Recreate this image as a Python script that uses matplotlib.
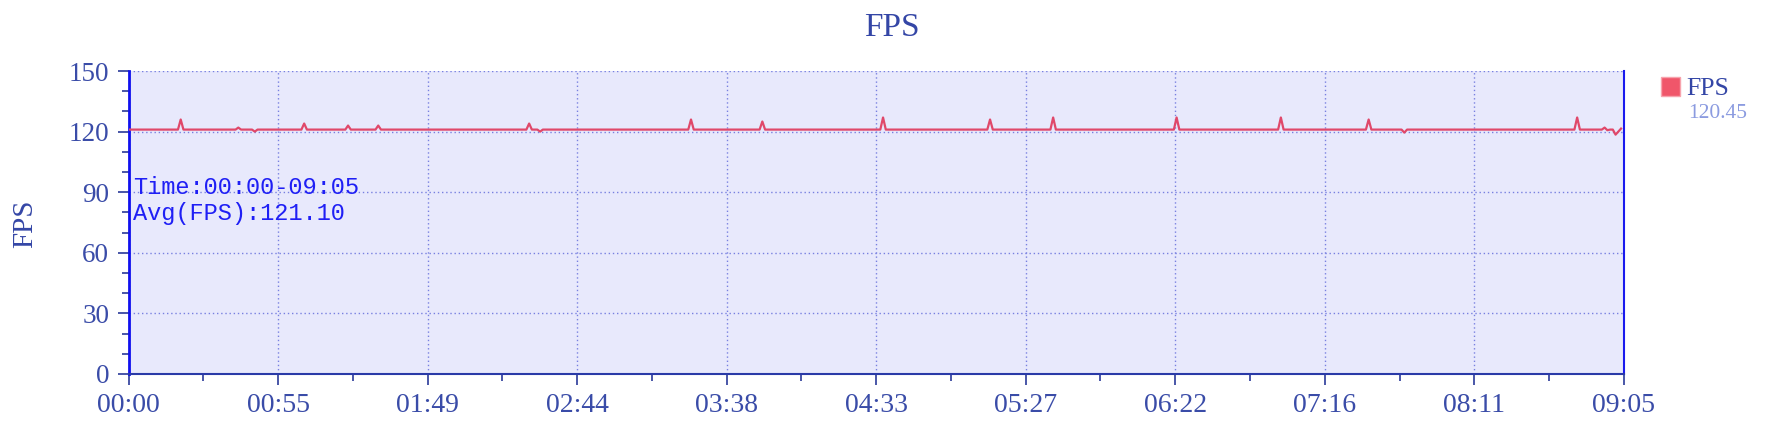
import matplotlib
matplotlib.use("Agg")
import matplotlib.pyplot as plt
from matplotlib.patches import Patch
from matplotlib.ticker import MultipleLocator, FixedLocator

# FPS samples (seconds since start, fps)
times = [0, 18, 19, 20, 39, 40, 41, 45, 46, 47, 63, 64, 65, 79, 80, 81,
         90, 91, 92, 145, 146, 147, 149, 150, 151, 204, 205, 206,
         230, 231, 232, 274, 275, 276, 313, 314, 315, 336, 337, 338,
         381, 382, 383, 419, 420, 421, 451, 452, 453, 464, 465, 466,
         527, 528, 529, 537, 538, 539, 540, 541, 542, 544]
fps = [121, 121, 126, 121, 121, 122, 121, 121, 120, 121, 121, 124, 121, 121, 123, 121,
       121, 123, 121, 121, 124, 121, 121, 120, 121, 121, 126, 121,
       121, 125, 121, 121, 127, 121, 121, 126, 121, 121, 127, 121,
       121, 127, 121, 121, 127, 121, 121, 126, 121, 121, 119.5, 121,
       121, 127, 121, 121, 122, 120.7, 121, 121, 118.5, 121.5]

x_ticks = [0, 54.5, 109, 163.5, 218, 272.5, 327, 381.5, 436, 490.5, 545]
x_tick_labels = ["00:00", "00:55", "01:49", "02:44", "03:38", "04:33",
                 "05:27", "06:22", "07:16", "08:11", "09:05"]
y_ticks = [0, 30, 60, 90, 120, 150]

avg_fps = 121.10
legend_value = 120.45
time_range = "00:00-09:05"

SERIF = ["Liberation Serif", "DejaVu Serif"]
MONO = ["Liberation Mono", "DejaVu Sans Mono"]
TICK_COLOR = "#3a4ca8"
LINE_COLOR = "#e0486a"


def main():
    fig = plt.figure(figsize=(17.76, 4.32), dpi=100)
    ax = fig.add_axes([0.0724, 0.1343, 0.8419, 0.7013])
    ax.set_facecolor("#e8e9fc")

    ax.plot(times, fps, color=LINE_COLOR, lw=1.6, zorder=3)

    ax.set_xlim(0, 545)
    ax.set_ylim(0, 150)
    ax.xaxis.set_major_locator(FixedLocator(x_ticks))
    ax.set_xticklabels(x_tick_labels)
    ax.xaxis.set_minor_locator(FixedLocator([(a + b) / 2 for a, b in zip(x_ticks[:-1], x_ticks[1:])]))
    ax.set_yticks(y_ticks)
    ax.yaxis.set_minor_locator(MultipleLocator(10))

    ax.grid(True, which="major", color="#7880e0", linestyle=(0, (1, 2)), lw=1)
    ax.set_axisbelow(True)

    ax.tick_params(which="major", length=8, width=1.2, color="#2a3a9a", pad=6)
    ax.tick_params(which="minor", length=5, width=1.2, color="#2a3a9a")
    for lab in ax.get_xticklabels():
        lab.set_fontfamily(SERIF)
        lab.set_fontsize(20)
        lab.set_color(TICK_COLOR)
    for lab in ax.get_yticklabels():
        lab.set_fontfamily(SERIF)
        lab.set_fontsize(19.5)
        lab.set_color(TICK_COLOR)

    ax.spines["top"].set_visible(False)
    ax.spines["left"].set_color("#1010ee")
    ax.spines["left"].set_linewidth(2)
    ax.spines["right"].set_color("#1a1aee")
    ax.spines["right"].set_linewidth(1.5)
    ax.spines["bottom"].set_color("#2a3aa8")
    ax.spines["bottom"].set_linewidth(1.5)

    # summary text inside the plot
    ax.text(0.003, 0.594, "Time:" + time_range, transform=ax.transAxes,
            fontfamily=MONO, fontsize=17, color="#1f1ff5", va="baseline")
    ax.text(0.003, 0.508, "Avg(FPS):%.2f" % avg_fps, transform=ax.transAxes,
            fontfamily=MONO, fontsize=17, color="#1f1ff5", va="baseline")

    fig.text(0.502, 0.936, "FPS", ha="center", va="center",
             fontfamily=SERIF, fontsize=24, color="#3446a6")
    fig.text(0.0144, 0.4826, "FPS", ha="center", va="center", rotation=90,
             fontfamily=SERIF, fontsize=21, color="#3446a6")

    handle = Patch(facecolor="#f0566a", edgecolor="#f7a3ad", lw=1, joinstyle="round")
    leg = ax.legend([handle], ["FPS"], loc="upper left",
                    bbox_to_anchor=(0.935, 0.822), bbox_transform=fig.transFigure,
                    frameon=False, borderpad=0, borderaxespad=0,
                    handlelength=0.75, handleheight=0.75, handletextpad=0.25,
                    prop={"family": SERIF, "size": 18.5})
    for t in leg.get_texts():
        t.set_color("#3446a6")
    fig.text(0.9505, 0.7384, "%.2f" % legend_value, ha="left", va="center",
             fontfamily=SERIF, fontsize=15.5, color="#8b9be0")

    plt.savefig("out.png", dpi=100)


if __name__ == "__main__":
    main()
